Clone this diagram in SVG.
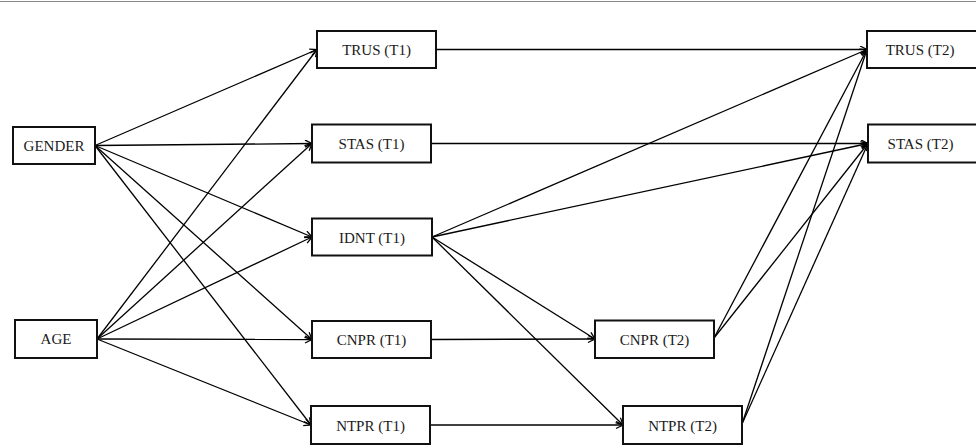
<svg xmlns="http://www.w3.org/2000/svg" width="976" height="445" viewBox="0 0 976 445">
  <defs>
    <marker id="arrow" markerUnits="userSpaceOnUse" markerWidth="10" markerHeight="10" refX="8" refY="4" orient="auto">
      <path d="M1,0.5 L8,4 L1,7.5" fill="none" stroke="#000" stroke-width="1.3"/>
    </marker>
    <style>
      .box { fill: #fff; stroke: #111; stroke-width: 2; }
      .lbl { font-family: "Liberation Serif", "Times New Roman", serif; font-size: 15px; fill: #1a1a1a; text-anchor: middle; }
      .edge { stroke: #000; stroke-width: 1.3; fill: none; marker-end: url(#arrow); }
    </style>
  </defs>

  <rect width="976" height="445" fill="#fff"/>
  <line x1="0" y1="1.5" x2="976" y2="1.5" stroke="#888" stroke-width="1.2"/>

  <g id="connectors">
    <!-- from GENDER -->
    <line class="edge" x1="95" y1="145.5" x2="317" y2="49.5"/>
    <line class="edge" x1="95" y1="145.5" x2="312" y2="143.5"/>
    <line class="edge" x1="95" y1="145.5" x2="312" y2="237"/>
    <line class="edge" x1="95" y1="145.5" x2="312" y2="339.5"/>
    <line class="edge" x1="95" y1="145.5" x2="311" y2="425"/>
    <!-- from AGE -->
    <line class="edge" x1="97" y1="339" x2="317" y2="49.5"/>
    <line class="edge" x1="97" y1="339" x2="312" y2="143.5"/>
    <line class="edge" x1="97" y1="339" x2="312" y2="237"/>
    <line class="edge" x1="97" y1="339" x2="312" y2="339.5"/>
    <line class="edge" x1="97" y1="339" x2="311" y2="425"/>
    <!-- stability paths T1 to T2 -->
    <line class="edge" x1="436" y1="49.5" x2="867" y2="49.5"/>
    <line class="edge" x1="431" y1="143.5" x2="868" y2="143.5"/>
    <line class="edge" x1="431" y1="339.5" x2="595" y2="339"/>
    <line class="edge" x1="430" y1="425" x2="623" y2="425"/>
    <!-- from IDNT (T1) -->
    <line class="edge" x1="432" y1="237" x2="867" y2="49.5"/>
    <line class="edge" x1="432" y1="237" x2="868" y2="143.5"/>
    <line class="edge" x1="432" y1="237" x2="595" y2="339"/>
    <line class="edge" x1="432" y1="237" x2="623" y2="425"/>
    <!-- from CNPR (T2) -->
    <line class="edge" x1="714" y1="338" x2="867" y2="49.5"/>
    <line class="edge" x1="714" y1="338" x2="868" y2="143.5"/>
    <!-- from NTPR (T2) -->
    <line class="edge" x1="742" y1="424" x2="867" y2="49.5"/>
    <line class="edge" x1="742" y1="424" x2="868" y2="143.5"/>
  </g>

  <g id="gender">
    <rect class="box" x="13" y="127" width="82" height="37"/>
    <text class="lbl" x="54" y="151">GENDER</text>
  </g>
  <g id="age">
    <rect class="box" x="15" y="320" width="82" height="38"/>
    <text class="lbl" x="56" y="344">AGE</text>
  </g>
  <g id="trus-t1">
    <rect class="box" x="317" y="31" width="119" height="37"/>
    <text class="lbl" x="376.5" y="55">TRUS (T1)</text>
  </g>
  <g id="stas-t1">
    <rect class="box" x="312" y="124.5" width="119" height="38"/>
    <text class="lbl" x="371.5" y="149">STAS (T1)</text>
  </g>
  <g id="idnt-t1">
    <rect class="box" x="312" y="218.5" width="120" height="37"/>
    <text class="lbl" x="372" y="242.5">IDNT (T1)</text>
  </g>
  <g id="cnpr-t1">
    <rect class="box" x="312" y="321" width="119" height="37"/>
    <text class="lbl" x="371.5" y="345">CNPR (T1)</text>
  </g>
  <g id="ntpr-t1">
    <rect class="box" x="311" y="406" width="119" height="38"/>
    <text class="lbl" x="370.5" y="430.5">NTPR (T1)</text>
  </g>
  <g id="cnpr-t2">
    <rect class="box" x="595" y="320.5" width="119" height="37.5"/>
    <text class="lbl" x="654.5" y="345">CNPR (T2)</text>
  </g>
  <g id="ntpr-t2">
    <rect class="box" x="623" y="406" width="119" height="38"/>
    <text class="lbl" x="682.5" y="430.5">NTPR (T2)</text>
  </g>
  <g id="trus-t2">
    <rect class="box" x="867" y="31" width="120" height="37"/>
    <text class="lbl" x="920" y="55">TRUS (T2)</text>
  </g>
  <g id="stas-t2">
    <rect class="box" x="868" y="124.5" width="120" height="38"/>
    <text class="lbl" x="920.5" y="149">STAS (T2)</text>
  </g>
</svg>
